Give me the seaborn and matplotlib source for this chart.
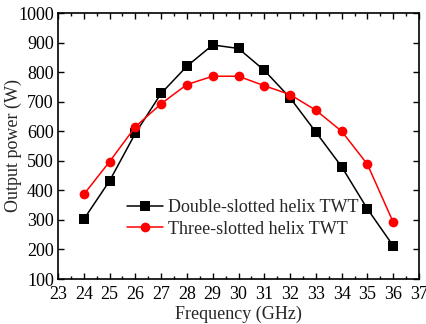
import matplotlib
matplotlib.use("Agg")
import matplotlib.pyplot as plt
import seaborn as sns
import pandas as pd
from matplotlib.ticker import MultipleLocator

freq = [24, 25, 26, 27, 28, 29, 30, 31, 32, 33, 34, 35, 36]
double_slot = [302, 432, 593, 728, 820, 892, 880, 806, 713, 597, 480, 337, 212]
three_slot = [386, 497, 615, 693, 758, 786, 786, 754, 724, 671, 600, 488, 292]
labels = ["Double-slotted helix TWT", "Three-slotted helix TWT"]

df = pd.concat([
    pd.DataFrame({"f": freq, "p": double_slot, "s": labels[0]}),
    pd.DataFrame({"f": freq, "p": three_slot, "s": labels[1]}),
])

sns.set_theme(style="ticks")
plt.rcParams["font.family"] = ["Liberation Serif", "DejaVu Serif"]

fig = plt.figure(figsize=(4.27, 3.24), dpi=100)
ax = fig.add_axes([58/427, 1-279/324, 361/427, 266/324])

sns.lineplot(data=df, x="f", y="p", hue="s", style="s",
             palette=["black", "red"], markers=["s", "o"], dashes=False,
             markersize=7, markeredgewidth=0, linewidth=1.1, ax=ax)

ax.set_xlim(23, 37)
ax.set_ylim(100, 1000)
ax.xaxis.set_major_locator(MultipleLocator(1))
ax.xaxis.set_minor_locator(MultipleLocator(0.5))
ax.yaxis.set_major_locator(MultipleLocator(100))
ax.tick_params(which="both", direction="in", top=True, right=True,
               labelsize=13, width=1, color="black", labelcolor="black", pad=3)
ax.tick_params(axis="x", which="both", pad=5)
ax.tick_params(which="major", length=4)
ax.tick_params(which="minor", length=2.5)
for sp in ax.spines.values():
    sp.set_linewidth(1.2)
    sp.set_color("black")
ax.set_xlabel("Frequency (GHz)", fontsize=13, labelpad=2)
ax.set_ylabel("Output power (W)", fontsize=13)
ax.yaxis.set_label_coords(-0.10, 0.5)

leg = ax.legend(title=None, frameon=False, fontsize=13, loc="upper left",
                bbox_to_anchor=(0.17, 0.327), handlelength=2.0,
                handletextpad=0.3, borderaxespad=0, labelspacing=0.25)

fig.savefig("out.png", dpi=100)
